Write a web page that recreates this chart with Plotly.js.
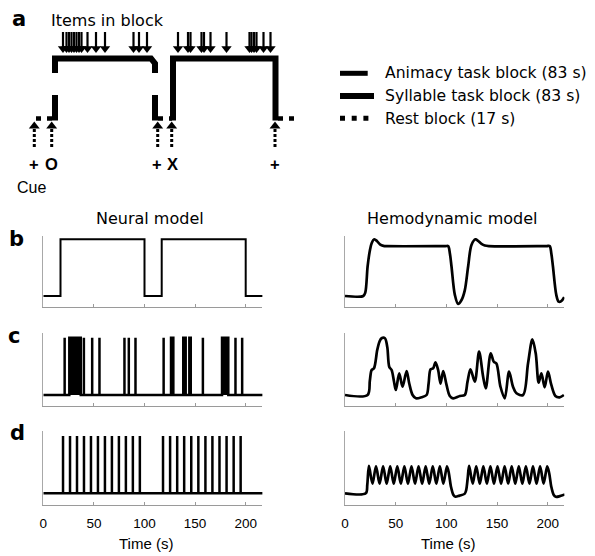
<!DOCTYPE html>
<html><head><meta charset="utf-8">
<script src="https://cdn.plot.ly/plotly-3.0.1.min.js"></script>
<style>html,body{margin:0;padding:0;background:#fff}#chart{width:595px;height:556px}</style>
</head><body><div id="chart"></div>
<script>
// ---------------- data ----------------
const totalTime = 217;
const blockOnsets = [17, 117];
const blockOffsets = [100, 200];
const tickValues = [0, 50, 100, 150, 200];
const tickLabels = ['0', '50', '100', '150', '200'];

// panel c: item events with variable timing (onset, offset in s)
const variableOnsets = [21.1, 25.7, 40.1, 48.3, 55.5, 80.2, 84.5, 91.1, 118.9, 126.2, 138.3, 144.3, 157.7, 176.6, 189.9, 196.5];
const variableOffsets = [21.1, 37.0, 40.1, 48.3, 55.5, 80.2, 84.5, 91.1, 118.9, 128.5, 140.7, 145.7, 157.7, 182.8, 189.9, 196.5];
// panel d: regularly spaced item events
const regularOnsets = [19.5, 26.4, 33.3, 40.2, 47.1, 54, 60.9, 67.8, 74.7, 81.6, 88.5, 95.4,
                       118.3, 125.3, 132.3, 139.2, 146.2, 153.2, 160.2, 167.1, 174.1, 181.1, 188.1, 195];

// hemodynamic responses
const hemoBlockTime  = [0, 18, 20, 22.3, 24.5, 26.3, 28.9, 31.5, 34.5, 38, 41, 99, 101.8, 103.5, 105.1, 108.4, 111.6, 115, 118.2, 121.5, 124.8, 128.8, 131.5, 134.7, 138, 141.9, 199, 202, 203.6, 205.2, 208.5, 210.8, 213.4, 216.3];
const hemoBlockValue = [0, 0, 0.06, 0.52, 0.8, 0.93, 1.0, 0.97, 0.91, 0.885, 0.88, 0.88, 0.88, 0.75, 0.52, 0.02, -0.14, -0.07, 0.1, 0.52, 0.9, 1.0, 0.97, 0.92, 0.89, 0.88, 0.88, 0.88, 0.75, 0.52, 0.02, -0.1, -0.09, -0.02];

const hemoVarTime  = [0, 22.3, 24.5, 26.3, 28.6, 31.8, 34, 36.1, 39.4, 41.7, 43.7, 46, 48.2, 50.2, 53.5, 56.8, 60.8, 63.4, 66.7, 70, 75.5, 80.5, 82.5, 84.4, 87, 89.3, 91.9, 94.3, 96.9, 100.2, 103.4, 106.7, 113.3, 118.2, 120.9, 123.8, 128.1, 132.3, 136.3, 138.9, 143.8, 146.8, 149.4, 153.4, 157.6, 161.9, 165.8, 169.2, 175.7, 180.6, 184.9, 188.2, 191.1, 193.8, 197, 200.3, 203.6, 207.6, 211.8, 216];
const hemoVarValue = [0, 0, 0.25, 0.436, 0.466, 0.785, 0.93, 0.99, 0.99, 0.84, 0.49, 0.436, 0.25, 0.087, 0.378, 0.145, 0.419, 0.2, 0, -0.058, -0.04, 0, 0.2, 0.448, 0.466, 0.57, 0.436, 0.2, 0.419, 0.175, -0.017, -0.058, -0.017, 0, 0.233, 0.448, 0.233, 0.756, 0.32, 0.116, 0.727, 0.58, 0.55, 0.145, -0.058, 0.407, 0.145, 0.03, 0, 0.55, 0.97, 0.727, 0.215, 0.378, 0.134, 0.407, 0.175, -0.017, -0.04, 0];

const hemoRegTime  = [0, 20.5, 22,
  23.6, 27.1, 30.6, 34.1, 37.6, 41.1, 44.6, 48.1, 51.6, 55.1, 58.6, 62.1, 65.6, 69.1, 72.6, 76.1, 79.6, 83.1, 86.6, 90.1, 93.6, 97.1, 100.6,
  102.5, 104.5, 107, 109, 113, 118, 119.5, 121,
  122.5, 126, 129.5, 133, 136.5, 140, 143.5, 147, 150.5, 154, 157.5, 161, 164.5, 168, 171.5, 175, 178.5, 182, 185.5, 189, 192.5, 196, 199.5,
  201.5, 203.5, 206, 208, 212, 217];
const hemoRegValue = [0, 0, 0.15,
  0.48, 0.17, 0.47, 0.17, 0.47, 0.17, 0.47, 0.17, 0.47, 0.17, 0.47, 0.17, 0.47, 0.17, 0.47, 0.17, 0.47, 0.17, 0.47, 0.17, 0.47, 0.17, 0.47,
  0.35, 0.12, -0.03, -0.06, -0.04, -0.01, 0.05, 0.25,
  0.48, 0.17, 0.47, 0.17, 0.47, 0.17, 0.47, 0.17, 0.47, 0.17, 0.47, 0.17, 0.47, 0.17, 0.47, 0.17, 0.47, 0.17, 0.47, 0.17, 0.47, 0.17, 0.47,
  0.35, 0.12, -0.03, -0.06, -0.05, -0.02];

// panel a schematic (diagram units)
const cueX = [34.3, 51.7, 157.7, 171.7, 275];
const cueLabels = ['+', 'O', '+', 'X', '+'];
const animacyItemX = [63, 66.5, 69, 71.5, 74, 76.5, 79, 81.5, 87.5, 96, 105, 133.5, 139, 147];
const syllableItemX = [178, 188, 190.5, 201.5, 204, 210.5, 226.5, 249.5, 251.5, 254, 256.5, 263.5, 270.5];
const animacyEdges = [55, 155];
const syllableEdges = [173, 275.5];
const restStarts = [36, 158, 278];
const restEnds = [52, 172, 296];
const legendLabels = ['Animacy task block (83 s)', 'Syllable task block (83 s)', 'Rest block (17 s)'];

// ---------------- helpers ----------------
const W = 595, H = 556;
const px = v => v / W, py = v => 1 - v / H;
const FD = 'DejaVu Sans, sans-serif';
const FL = 'Liberation Sans, Arial, sans-serif';

function boxcar(on, off) {
  const x = [0], y = [0];
  for (let i = 0; i < on.length; i++) { x.push(on[i], on[i], off[i], off[i]); y.push(0, 1, 1, 0); }
  x.push(totalTime); y.push(0);
  return {x, y};
}
const bNeural = boxcar(blockOnsets, blockOffsets);
const cNeural = boxcar(variableOnsets, variableOffsets);
const dNeural = boxcar(regularOnsets, regularOnsets);

const traces = [];
traces.push({x: bNeural.x, y: bNeural.y, xaxis: 'x', yaxis: 'y', mode: 'lines', line: {color: '#000', width: 2}});
traces.push({x: hemoBlockTime, y: hemoBlockValue, xaxis: 'x2', yaxis: 'y2', mode: 'lines', line: {color: '#000', width: 2.7, shape: 'spline', smoothing: 0.9}});
traces.push({x: cNeural.x, y: cNeural.y, xaxis: 'x3', yaxis: 'y3', mode: 'lines', fill: 'toself', fillcolor: '#000', line: {color: '#000', width: 2.5}});
traces.push({x: hemoVarTime, y: hemoVarValue, xaxis: 'x4', yaxis: 'y4', mode: 'lines', line: {color: '#000', width: 2.7, shape: 'spline', smoothing: 0.9}});
traces.push({x: dNeural.x, y: dNeural.y, xaxis: 'x5', yaxis: 'y5', mode: 'lines', line: {color: '#000', width: 2.5}});
traces.push({x: hemoRegTime, y: hemoRegValue, xaxis: 'x6', yaxis: 'y6', mode: 'lines', line: {color: '#000', width: 2.7, shape: 'spline', smoothing: 0.9}});

// ----- panel a schematic -----
const hiLevel = 58.5, loLevel = 120.5, restLevel = 118.5, gapTop = 73, gapBottom = 95;
const A = {xaxis: 'x7', yaxis: 'y7', hoverinfo: 'skip'};
// animacy block (dashed verticals, solid top)
traces.push(Object.assign({
  x: [animacyEdges[0], animacyEdges[0], null, animacyEdges[0], animacyEdges[0], animacyEdges[1] - 4, animacyEdges[1], animacyEdges[1], null, animacyEdges[1], animacyEdges[1]],
  y: [loLevel, gapBottom, null, gapTop, hiLevel, hiLevel, hiLevel + 5, gapTop, null, gapBottom, loLevel],
  mode: 'lines', line: {color: '#000', width: 6}}, A));
// syllable block
traces.push(Object.assign({
  x: [syllableEdges[0], syllableEdges[0], syllableEdges[1], syllableEdges[1]],
  y: [loLevel, hiLevel, hiLevel, loLevel],
  mode: 'lines', line: {color: '#000', width: 6}}, A));
// rest blocks
restStarts.forEach((s, i) => traces.push(Object.assign({
  x: [s, restEnds[i]], y: [restLevel, restLevel], mode: 'lines',
  line: {color: '#000', width: 4.5, dash: '5px,6px'}}, A)));
// item arrows
const itemX = animacyItemX.concat(syllableItemX);
const shaftX = [], shaftY = [];
itemX.forEach(x => { shaftX.push(x, x, null); shaftY.push(32, 47, null); });
traces.push(Object.assign({x: shaftX, y: shaftY, mode: 'lines', line: {color: '#000', width: 2.2}}, A));
traces.push(Object.assign({x: itemX, y: itemX.map(() => 48.5), mode: 'markers',
  marker: {symbol: 'triangle-down', size: 9, color: '#000', line: {width: 0}}}, A));
// cue arrows (dotted)
const cueSX = [], cueSY = [];
cueX.forEach(x => { cueSX.push(x, x, null); cueSY.push(129, 148, null); });
traces.push(Object.assign({x: cueSX, y: cueSY, mode: 'lines', line: {color: '#000', width: 3, dash: '3px,2px'}}, A));
traces.push(Object.assign({x: cueX, y: cueX.map(() => 126.2), mode: 'markers',
  marker: {symbol: 'triangle-up', size: 9.5, color: '#000', line: {width: 0}}}, A));
// legend samples
traces.push(Object.assign({x: [340, 367.7], y: [73.3, 73.3], mode: 'lines', line: {color: '#000', width: 5}}, A));
traces.push(Object.assign({x: [340, 374], y: [96, 96], mode: 'lines', line: {color: '#000', width: 6}}, A));
traces.push(Object.assign({x: [340, 372], y: [118.3, 118.3], mode: 'lines', line: {color: '#000', width: 5, dash: '5px,6.7px'}}, A));

// ----- axes -----
const L = [43.3 / W, 262.4 / W], R = [345 / W, 564.4 / W];
const rows = {
  b: {dom: [py(306.7), py(236)], rng: [-0.1887, 1.0582]},
  c: {dom: [py(406), py(332.7)], rng: [-0.192, 1.0873]},
  d: {dom: [py(504.5), py(431)], rng: [-0.1955, 1.0873]}
};
function xax(dom, anchor, labels) {
  return {domain: dom, anchor: anchor, range: [0, 216.5], showgrid: false, zeroline: false,
    showline: true, linecolor: '#9a9a9a', linewidth: 1, ticks: 'inside', ticklen: 3, tickwidth: 1, tickcolor: '#9a9a9a',
    tickvals: tickValues, ticktext: tickLabels, showticklabels: labels, ticklabelstandoff: 6,
    tickfont: {family: FL, size: 13.5, color: '#000'}, fixedrange: true};
}
function yax(row, anchor) {
  return {domain: rows[row].dom, anchor: anchor, range: rows[row].rng, showgrid: false, zeroline: false,
    showline: true, linecolor: '#a8a8a8', linewidth: 1, ticks: '', showticklabels: false, fixedrange: true};
}

const annotations = [];
function ann(text, x, y, o) {
  annotations.push(Object.assign({text: text, x: px(x), y: py(y), xref: 'paper', yref: 'paper', showarrow: false,
    xanchor: 'center', yanchor: 'middle', font: {family: FD, size: 16, color: '#000'}}, o || {}));
}
// panel letters
const letterFont = {family: FD, size: 21, color: '#000', weight: 'bold'};
ann('<b>a</b>', 19.3, 18.5, {font: letterFont});
ann('<b>b</b>', 16, 238.5, {font: letterFont});
ann('<b>c</b>', 14.2, 335.5, {font: letterFont});
ann('<b>d</b>', 17.2, 432.5, {font: letterFont});
// titles
ann('Neural model', 149.5, 218.5);
ann('Hemodynamic model', 452, 218.5);
ann('Items in block', 107.5, 20.5);
// legend labels
legendLabels.forEach((t, i) => ann(t, 383, [73.5, 96, 119][i], {xanchor: 'left', font: {family: FD, size: 15.6, color: '#000'}}));
// cue labels
cueLabels.forEach((t, i) => ann('<b>' + t + '</b>', [34.3, 51.7, 156.7, 172.3, 275][i], 164, {font: {family: FL, size: 16.5, color: '#000'}}));
ann('Cue', 31.7, 187, {font: {family: FL, size: 16, color: '#000'}});
// x-axis titles
ann('Time (s)', 145.8, 543.3, {font: {family: FL, size: 15, color: '#000'}});
ann('Time (s)', 447.5, 543.3, {font: {family: FL, size: 15, color: '#000'}});

const layout = {
  width: W, height: H, margin: {l: 0, r: 0, t: 0, b: 0},
  paper_bgcolor: '#fff', plot_bgcolor: 'rgba(0,0,0,0)', showlegend: false,
  xaxis: xax(L, 'y', false), yaxis: yax('b', 'x'),
  xaxis2: xax(R, 'y2', false), yaxis2: yax('b', 'x2'),
  xaxis3: xax(L, 'y3', false), yaxis3: yax('c', 'x3'),
  xaxis4: xax(R, 'y4', false), yaxis4: yax('c', 'x4'),
  xaxis5: xax(L, 'y5', true), yaxis5: yax('d', 'x5'),
  xaxis6: xax(R, 'y6', true), yaxis6: yax('d', 'x6'),
  xaxis7: {domain: [0, 1], range: [0, 595], visible: false, fixedrange: true, anchor: 'y7'},
  yaxis7: {domain: [py(200), 1], range: [200, 0], visible: false, fixedrange: true, anchor: 'x7'},
  annotations: annotations
};
Plotly.newPlot('chart', traces, layout, {displayModeBar: false, staticPlot: true});
</script>
</body></html>
